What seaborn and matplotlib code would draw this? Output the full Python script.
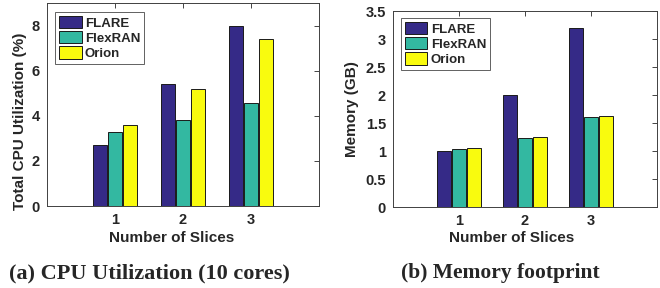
import matplotlib
matplotlib.use('Agg')
import matplotlib.pyplot as plt
from matplotlib.ticker import FormatStrFormatter
import seaborn as sns
import pandas as pd

# Data
slices = ['1', '2', '3']
systems = ['FLARE', 'FlexRAN', 'Orion']
cpu_flare = [2.7, 5.4, 8.0]
cpu_flexran = [3.3, 3.8, 4.55]
cpu_orion = [3.6, 5.2, 7.4]
mem_flare = [1.0, 2.0, 3.2]
mem_flexran = [1.04, 1.23, 1.61]
mem_orion = [1.05, 1.25, 1.63]

colors = ['#352A87', '#33B8A1', '#F9FB0E']

sns.set_style('white')
plt.rcParams['font.family'] = ['Liberation Sans', 'DejaVu Sans']
plt.rcParams['font.weight'] = 'bold'
plt.rcParams['axes.labelweight'] = 'bold'


def to_frame(a, b, c):
    rows = []
    for name, vals in zip(systems, [a, b, c]):
        for s, v in zip(slices, vals):
            rows.append({'slices': s, 'system': name, 'value': v})
    return pd.DataFrame(rows)


def draw_panel(ax, df, ylim, yticks, ylabel, ylab_x, ylab_y, xlab_x, xlab_y, leg_y):
    sns.barplot(data=df, x='slices', y='value', hue='system', order=slices,
                hue_order=systems, palette=colors, saturation=1, width=0.675,
                gap=0.09, edgecolor='#1a1a1a', linewidth=0.7, ax=ax, errorbar=None)
    ax.set_xlim(-1, 3)
    ax.set_ylim(*ylim)
    ax.set_yticks(yticks)
    ax.yaxis.set_major_formatter(FormatStrFormatter('%g'))
    ax.tick_params(direction='in', top=True, right=True, length=3.5,
                   width=0.6, labelsize=10.5, pad=5, color='#262626')
    for sp in ax.spines.values():
        sp.set_color('#404040')
        sp.set_linewidth(0.7)
    ax.set_xlabel('Number of Slices', fontsize=11)
    ax.set_ylabel(ylabel, fontsize=11)
    ax.xaxis.set_label_coords(xlab_x, xlab_y)
    ax.yaxis.set_label_coords(ylab_x, ylab_y)
    leg = ax.legend(loc='upper left', bbox_to_anchor=(0.03, leg_y),
                    borderaxespad=0, fontsize=9.5, frameon=True, fancybox=False,
                    handlelength=1.7, handleheight=1.05, handletextpad=0.25,
                    labelspacing=0.12, borderpad=0.3, title=None)
    leg.get_frame().set_edgecolor('#1a1a1a')
    leg.get_frame().set_linewidth(0.6)
    for t in leg.get_texts():
        t.set_fontweight('bold')


fig = plt.figure(figsize=(6.6, 2.88), dpi=100)
ax1 = fig.add_axes([0.0712, 0.2847, 0.4121, 0.7049])
ax2 = fig.add_axes([0.5955, 0.2812, 0.4000, 0.6806])

draw_panel(ax1, to_frame(cpu_flare, cpu_flexran, cpu_orion), (0, 9),
           [0, 2, 4, 6, 8], 'Total CPU Utilization (%)',
           -0.074, 0.415, 0.458, -0.123, 0.956)
draw_panel(ax2, to_frame(mem_flare, mem_flexran, mem_orion), (0, 3.5),
           [0, 0.5, 1, 1.5, 2, 2.5, 3, 3.5], 'Memory (GB)',
           -0.129, 0.5, 0.45, -0.122, 0.964)

fig.text(0.227, 0.052, '(a) CPU Utilization (10 cores)', ha='center', va='center',
         family='Liberation Serif', fontweight='bold', fontsize=16)
fig.text(0.758, 0.052, '(b) Memory footprint', ha='center', va='center',
         family='Liberation Serif', fontweight='bold', fontsize=15.5)

fig.savefig('out.png', dpi=100)
